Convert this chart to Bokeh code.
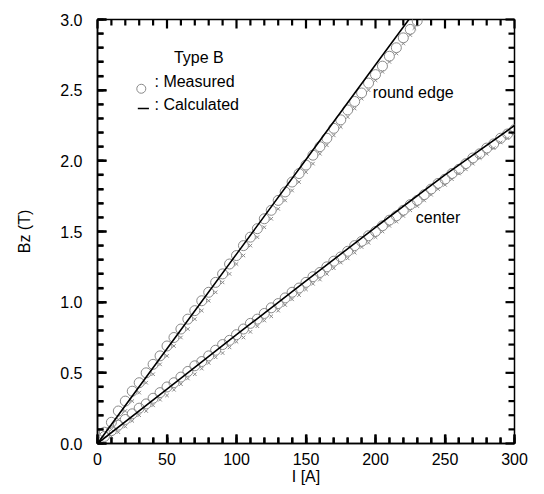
from bokeh.plotting import figure
from bokeh.models import Range1d, SingleIntervalTicker, PrintfTickFormatter, Label
from bokeh.embed import file_html
from bokeh.resources import INLINE

# ---------------- data ----------------
# round edge: measured (circles)
re_meas_I = [5, 10, 15, 20, 25, 30, 35, 40, 45, 50, 55, 60, 65, 70, 75, 80, 85, 90, 95, 100,
             105, 110, 115, 120, 125, 130, 135, 140, 145, 150, 155, 160, 165, 170, 175, 180,
             185, 190, 195, 200, 205, 210, 215, 220, 225, 230]
re_meas_B = [0.08, 0.15, 0.23, 0.30, 0.37, 0.43, 0.50, 0.56, 0.62, 0.69, 0.75, 0.81, 0.88, 0.94,
             1.01, 1.07, 1.14, 1.20, 1.27, 1.33, 1.40, 1.46, 1.52, 1.59, 1.65, 1.72, 1.78, 1.85,
             1.91, 1.97, 2.04, 2.10, 2.16, 2.23, 2.29, 2.36, 2.42, 2.48, 2.55, 2.61, 2.67, 2.74,
             2.80, 2.87, 2.93, 2.99]
# round edge: second measured set (small crosses)
re_x_I = [10, 15, 20, 25, 30, 35, 40, 45, 50, 55, 60, 65, 70, 75, 80, 85, 90, 95, 100, 105, 110,
          115, 120, 125, 130, 135, 140, 145, 150, 155, 160, 165, 170, 175, 180, 185, 190, 195,
          200, 205, 210, 215, 220, 225, 228]
re_x_B = [0.10, 0.17, 0.23, 0.30, 0.36, 0.43, 0.49, 0.56, 0.62, 0.69, 0.75, 0.81, 0.88, 0.94,
          1.01, 1.07, 1.14, 1.20, 1.27, 1.33, 1.40, 1.46, 1.53, 1.59, 1.66, 1.72, 1.79, 1.85,
          1.92, 1.98, 2.05, 2.11, 2.18, 2.24, 2.31, 2.37, 2.44, 2.50, 2.57, 2.63, 2.70, 2.76,
          2.83, 2.89, 2.94]
# round edge: calculated
re_calc_I = [0, 50, 100, 150, 200, 224]
re_calc_B = [0.0, 0.67, 1.34, 2.01, 2.68, 3.0]

# center: measured (circles)
ce_meas_I = [5, 10, 15, 20, 25, 30, 35, 40, 45, 50, 55, 60, 65, 70, 75, 80, 85, 90, 95, 100,
             105, 110, 115, 120, 125, 130, 135, 140, 145, 150, 155, 160, 165, 170, 175, 180,
             185, 190, 195, 200, 205, 210, 215, 220, 225, 230, 235, 240, 245, 250, 255, 260,
             265, 270, 275, 280, 285, 290, 295, 300]
ce_meas_B = [0.05, 0.09, 0.13, 0.17, 0.21, 0.25, 0.28, 0.32, 0.36, 0.40, 0.43, 0.47, 0.51, 0.55,
             0.58, 0.62, 0.66, 0.70, 0.73, 0.77, 0.81, 0.85, 0.88, 0.92, 0.96, 0.99, 1.03, 1.07,
             1.10, 1.14, 1.18, 1.21, 1.25, 1.29, 1.32, 1.36, 1.40, 1.43, 1.47, 1.50, 1.54, 1.58,
             1.61, 1.65, 1.69, 1.72, 1.76, 1.80, 1.84, 1.87, 1.91, 1.94, 1.98, 2.02, 2.05, 2.09,
             2.12, 2.16, 2.19, 2.22]
# center: second measured set (small crosses)
ce_x_I = [10, 15, 20, 25, 30, 35, 40, 45, 50, 55, 60, 65, 70, 75, 80, 85, 90, 95, 100, 105, 110,
          115, 120, 125, 130, 135, 140, 145, 150, 155, 160, 165, 170, 175, 180, 185, 190, 195,
          200, 205, 210, 215, 220, 225, 230, 235, 240, 245, 250, 255, 260, 265, 270, 275, 280,
          285, 290, 295]
ce_x_B = [0.05, 0.08, 0.12, 0.16, 0.20, 0.23, 0.27, 0.31, 0.34, 0.38, 0.42, 0.46, 0.49, 0.53,
          0.57, 0.61, 0.64, 0.68, 0.72, 0.75, 0.79, 0.83, 0.87, 0.90, 0.94, 0.98, 1.02, 1.05,
          1.09, 1.13, 1.16, 1.20, 1.24, 1.28, 1.31, 1.35, 1.39, 1.42, 1.46, 1.50, 1.54, 1.57,
          1.61, 1.65, 1.68, 1.72, 1.76, 1.80, 1.83, 1.87, 1.91, 1.94, 1.98, 2.02, 2.05, 2.09,
          2.13, 2.16]
# center: calculated
ce_calc_I = [0, 50, 100, 150, 200, 250, 300]
ce_calc_B = [0.0, 0.385, 0.77, 1.15, 1.53, 1.90, 2.25]

FONT = "Liberation Sans"
GRAY = "#8a8a8a"
X_MAX, Y_MAX = 300, 3.0
FW, FH = 417, 424

p = figure(frame_width=FW, frame_height=FH, min_border_left=97, min_border_top=19,
           min_border_right=20, min_border_bottom=45,
           x_range=Range1d(0, X_MAX), y_range=Range1d(0, Y_MAX),
           output_backend="svg", toolbar_location=None,
           x_axis_label="I [A]", y_axis_label="Bz (T)")
p.outline_line_color = "black"
p.outline_line_width = 1.5
p.xgrid.visible = False
p.ygrid.visible = False

p.xaxis.ticker = SingleIntervalTicker(interval=50, num_minor_ticks=5)
p.yaxis.ticker = SingleIntervalTicker(interval=0.5, num_minor_ticks=5)
p.yaxis.formatter = PrintfTickFormatter(format="%.1f")

for ax in (p.xaxis[0], p.yaxis[0]):
    ax.major_tick_in = 9
    ax.major_tick_out = 0
    ax.minor_tick_in = 6
    ax.minor_tick_out = 0
    ax.major_tick_line_width = 2
    ax.minor_tick_line_width = 2
    ax.axis_line_width = 1.5
    ax.major_label_text_font = FONT
    ax.major_label_text_font_size = "16px"
    ax.major_label_text_color = "black"
    ax.axis_label_text_font = FONT
    ax.axis_label_text_font_size = "16px"
    ax.axis_label_text_font_style = "normal"
    ax.axis_label_text_color = "black"

p.xaxis.major_label_standoff = 9
p.xaxis.axis_label_standoff = 0
p.yaxis.major_label_standoff = 15
p.yaxis.axis_label_standoff = 24

# inward ticks on all four sides, drawn as line segments (lengths in pixels)
MAJ, MIN = 9, 6
N = 31
tl = [float(MAJ if i % 5 == 0 else MIN) for i in range(N)]
lx = [v * Y_MAX / FH for v in tl]   # tick length in y data units (bottom/top)
ly = [v * X_MAX / FW for v in tl]   # tick length in x data units (left/right)
TK = dict(line_color="black", line_width=2.2, level="overlay")
p.segment(x0=[10.0 * i for i in range(N)], y0=[0.0 for i in range(N)],
          x1=[10.0 * i for i in range(N)], y1=[lx[i] for i in range(N)], **TK)
p.segment(x0=[10.0 * i for i in range(N)], y0=[Y_MAX for i in range(N)],
          x1=[10.0 * i for i in range(N)], y1=[Y_MAX - lx[i] for i in range(N)], **TK)
p.segment(x0=[0.0 for i in range(N)], y0=[0.1 * i for i in range(N)],
          x1=[ly[i] for i in range(N)], y1=[0.1 * i for i in range(N)], **TK)
p.segment(x0=[float(X_MAX) for i in range(N)], y0=[0.1 * i for i in range(N)],
          x1=[X_MAX - ly[i] for i in range(N)], y1=[0.1 * i for i in range(N)], **TK)

# measured circles and crosses
p.scatter(re_meas_I, re_meas_B, marker="circle", size=10, fill_color=None,
          line_color=GRAY, line_width=1)
p.scatter(re_x_I, re_x_B, marker="x", size=5, line_color=GRAY, line_width=1)
p.scatter(ce_meas_I, ce_meas_B, marker="circle", size=10, fill_color=None,
          line_color=GRAY, line_width=1)
p.scatter(ce_x_I, ce_x_B, marker="x", size=5, line_color=GRAY, line_width=1)

# calculated lines
p.line(re_calc_I, re_calc_B, line_color="black", line_width=1.6)
p.line(ce_calc_I, ce_calc_B, line_color="black", line_width=1.6)

# key
p.scatter([31.5], [2.51], marker="circle", size=9, fill_color=None, line_color=GRAY, line_width=1)
p.segment(x0=[29], y0=[2.37], x1=[37], y1=[2.37], line_color="black", line_width=1.4)

def lab(x, y, t):
    p.add_layout(Label(x=x, y=y, text=t, text_font=FONT, text_font_size="16px",
                       text_baseline="middle", text_align="left", text_color="black"))

lab(55, 2.73, "Type B")
lab(41, 2.56, ": Measured")
lab(41, 2.40, ": Calculated")
lab(198, 2.48, "round edge")
lab(229, 1.60, "center")

open("out.html", "w").write(file_html(p, INLINE))
